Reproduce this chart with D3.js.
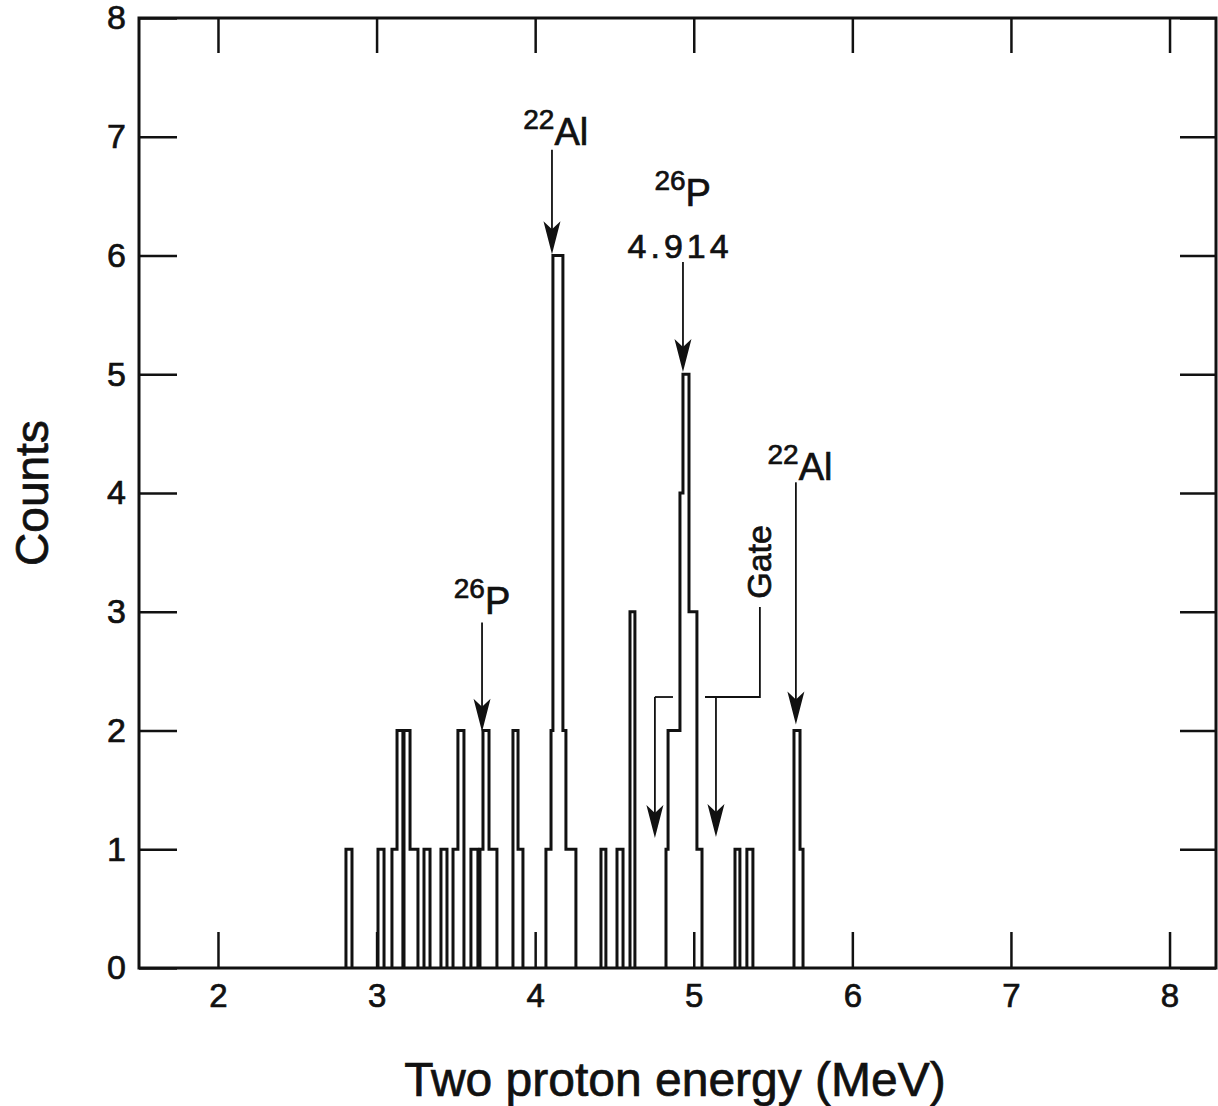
<!DOCTYPE html>
<meta charset="utf-8">
<script src="https://d3js.org/d3.v7.min.js"></script>
<style>
  body { margin: 0; background: #fff; }
  text { font-family: "Liberation Sans", Arial, sans-serif; fill: #111; stroke: #111; stroke-width: 0.7px; }
</style>
<div id="base"></div>
<script>
    // histogram bins (MeV) and counts
    var binLo = [2.807, 3.009, 3.097, 3.129, 3.173, 3.211, 3.299, 3.406, 3.482, 3.513, 3.595,
        3.652, 3.671, 3.709, 3.860, 3.892, 4.068, 4.100, 4.112, 4.175, 4.194, 4.415, 4.516,
        4.598, 4.825, 4.838, 4.913, 4.932, 4.970, 5.020, 5.260, 5.335, 5.632, 5.670];
    var binHi = [2.845, 3.047, 3.129, 3.166, 3.211, 3.261, 3.337, 3.444, 3.513, 3.551, 3.639,
        3.671, 3.709, 3.759, 3.892, 3.923, 4.100, 4.112, 4.175, 4.194, 4.257, 4.446, 4.554,
        4.629, 4.838, 4.913, 4.932, 4.970, 5.020, 5.052, 5.291, 5.373, 5.670, 5.689];
    var binCount = [1, 1, 1, 2, 2, 1, 1, 1, 1, 2, 1,
        1, 2, 1, 2, 1, 1, 2, 6, 2, 1, 1, 1,
        3, 1, 2, 4, 5, 3, 1, 1, 1, 2, 1];

    var xTicks = [2, 3, 4, 5, 6, 7, 8];
    var yTicks = [0, 1, 2, 3, 4, 5, 6, 7, 8];

    var width = 1218, height = 1106;
    var frameL = 139, frameR = 1216, frameT = 18, frameB = 968;

    var svg = d3.select("#base")
        .append("svg")
        .attr("width", width)
        .attr("height", height);

    var x = d3.scaleLinear().domain([1.502, 8.293]).range([frameL, frameR]);
    var y = d3.scaleLinear().domain([0, 8]).range([frameB, frameT]);
    var fmt = d3.format("d");

    // inward ticks on all four sides
    svg.append("g")
        .attr("transform", "translate(0," + frameB + ")")
        .call(d3.axisBottom(x).tickValues(xTicks).tickFormat(fmt).tickSizeInner(-36).tickSizeOuter(0).tickPadding(16))
        .call(function (g) { g.select(".domain").remove(); })
        .call(function (g) { g.selectAll("text").attr("font-size", 33).attr("font-family", null); });
    svg.append("g")
        .attr("transform", "translate(0," + frameT + ")")
        .call(d3.axisTop(x).tickValues(xTicks).tickSizeInner(-35).tickSizeOuter(0).tickFormat(""))
        .call(function (g) { g.select(".domain").remove(); });
    svg.append("g")
        .attr("transform", "translate(" + frameL + ",0)")
        .call(d3.axisLeft(y).tickValues(yTicks).tickFormat(fmt).tickSizeInner(-38).tickSizeOuter(0).tickPadding(13))
        .call(function (g) { g.select(".domain").remove(); })
        .call(function (g) { g.selectAll("text").attr("font-size", 34).attr("font-family", null); });
    svg.append("g")
        .attr("transform", "translate(" + frameR + ",0)")
        .call(d3.axisRight(y).tickValues(yTicks).tickSizeInner(-36).tickSizeOuter(0).tickFormat(""))
        .call(function (g) { g.select(".domain").remove(); });
    svg.selectAll(".tick line").attr("stroke", "#111").attr("stroke-width", 2.5);
    svg.selectAll(".tick text").attr("fill", "#111");

    svg.append("rect")
        .attr("x", frameL).attr("y", frameT)
        .attr("width", frameR - frameL).attr("height", frameB - frameT)
        .attr("fill", "none").attr("stroke", "#111").attr("stroke-width", 3);

    // group touching bins into step outlines
    var groups = [];
    binLo.forEach(function (lo, i) {
        var last = groups[groups.length - 1];
        if (!last || Math.abs(binHi[i - 1] - lo) > 1e-6) {
            last = [[lo, 0]];
            groups.push(last);
        }
        last.push([lo, binCount[i]], [binHi[i], binCount[i]]);
        if (i == binLo.length - 1 || Math.abs(binLo[i + 1] - binHi[i]) > 1e-6) {
            last.push([binHi[i], 0]);
        }
    });

    var line = d3.line()
        .x(function (d) { return x(d[0]); })
        .y(function (d) { return y(d[1]); });

    svg.append("g")
        .selectAll("path")
        .data(groups)
        .enter()
        .append("path")
        .attr("d", line)
        .attr("fill", "none")
        .attr("stroke", "#111")
        .attr("stroke-width", 3);

    // annotation arrows: [x, tail count, tip count]
    var arrows = [[4.106, 6.89, 6.01], [4.932, 5.945, 5.02], [5.644, 4.09, 2.05],
        [3.665, 2.91, 1.99], [4.755, 2.282, 1.095], [5.14, 2.282, 1.103]];

    arrows.forEach(function (a) {
        var ax = x(a[0]), y0 = y(a[1]), y1 = y(a[2]);
        svg.append("line")
            .attr("x1", ax).attr("x2", ax)
            .attr("y1", y0).attr("y2", y1 - 20)
            .attr("stroke", "#111").attr("stroke-width", 1.8);
        svg.append("path")
            .attr("d", "M" + ax + "," + y1 + "L" + (ax - 8.5) + "," + (y1 - 33) + "L" + ax + "," + (y1 - 25)
                + "L" + (ax + 8.5) + "," + (y1 - 33) + "Z")
            .attr("fill", "#111");
    });

    // gate brackets
    var gateLines = [
        [[4.869, 2.282], [4.755, 2.282]],
        [[5.417, 3.04], [5.417, 2.282], [5.071, 2.282]]
    ];
    svg.append("g")
        .selectAll("path")
        .data(gateLines)
        .enter()
        .append("path")
        .attr("d", line)
        .attr("fill", "none")
        .attr("stroke", "#111")
        .attr("stroke-width", 1.8);

    // isotope labels: [x, baseline count, mass number, symbol]
    var labels = [[4.13, 6.93, "22", "Al"], [4.93, 6.42, "26", "P"], [5.67, 4.11, "22", "Al"],
        [3.665, 2.98, "26", "P"]];

    labels.forEach(function (l) {
        var t = svg.append("text")
            .attr("x", x(l[0])).attr("y", y(l[1]))
            .attr("text-anchor", "middle");
        t.append("tspan").attr("font-size", 28).attr("dy", -16).text(l[2]);
        t.append("tspan").attr("font-size", 38).attr("dy", 16).text(l[3]);
    });

    svg.append("text")
        .attr("x", x(4.914)).attr("y", y(5.98))
        .attr("text-anchor", "middle")
        .attr("font-size", 34)
        .attr("letter-spacing", 4)
        .text("4.914");

    svg.append("text")
        .attr("transform", "translate(" + (x(5.417) + 11) + "," + y(3.42) + ") rotate(-90)")
        .attr("text-anchor", "middle")
        .attr("font-size", 34)
        .text("Gate");

    // axis titles
    svg.append("text")
        .attr("transform", "translate(48," + (frameT + frameB) / 2 + ") rotate(-90)")
        .attr("text-anchor", "middle")
        .attr("font-size", 46)
        .text("Counts");

    svg.append("text")
        .attr("x", 675).attr("y", 1096)
        .attr("text-anchor", "middle")
        .attr("font-size", 48)
        .text("Two proton energy (MeV)");
</script>
